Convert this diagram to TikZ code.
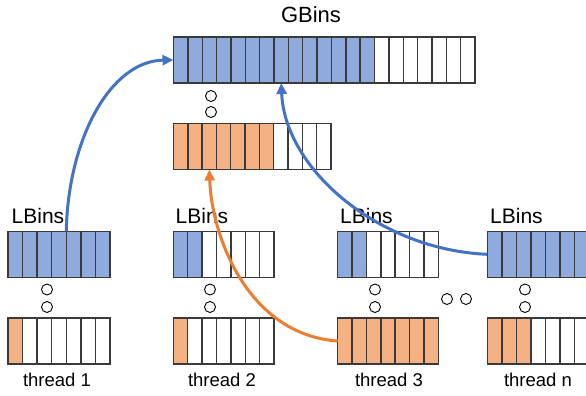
\documentclass[tikz,border=0pt]{standalone}
\usepackage{fontspec}
\setmainfont{Liberation Sans}
\usetikzlibrary{arrows.meta}
\definecolor{binblue}{HTML}{8FAADC}
\definecolor{binorange}{HTML}{F4B183}
\definecolor{arrblue}{HTML}{4472C4}
\definecolor{arrorange}{HTML}{ED7D31}
\definecolor{cellline}{HTML}{3A3A3A}
\tikzset{
  cell/.style={draw=cellline, line width=1.4pt, minimum height=46pt, inner sep=0pt, outer sep=0pt},
  dot/.style={circle, draw=black, line width=0.9pt, minimum size=11pt, inner sep=0pt},
  lbl/.style={font=\fontsize{21}{21}\selectfont, inner sep=0pt, anchor=base west},
  tlbl/.style={font=\fontsize{18.5}{18.5}\selectfont, inner sep=0pt, anchor=base},
  conn/.style={line width=3pt, -{Triangle[length=11pt,width=10pt]}},
}
% name, x-left, y-center, n, nfilled, colour, cell width
\newcommand\cellrow[7]{%
  \foreach \i in {1,...,#4}{%
    \ifnum\i>#5\relax\def\cf{white}\else\def\cf{#6}\fi
    \node[cell, minimum width=#7pt, fill=\cf] (#1-\i) at ({#2+(\i-0.5)*#7}, #3) {};
  }}
\begin{document}
\begin{tikzpicture}[x=1pt,y=-1pt]
\clip (0,0) rectangle (586,396);
\fill[white] (0,0) rectangle (586,396);
% global bins
\node[font=\fontsize{22}{22}\selectfont, inner sep=0pt, anchor=base] (gl) at (311,22.5) {GBins};
\cellrow{g}{173.5}{60}{21}{14}{binblue}{14.36}
\cellrow{o}{173.5}{146.5}{11}{7}{binorange}{14.32}
\node[dot] (gd1) at (211,96) {};
\node[dot] (gd2) at (211,112) {};
% thread 1
\node[lbl] (l1) at (11.5,223) {LBins};
\cellrow{ta}{8}{254.3}{7}{7}{binblue}{14.57}
\cellrow{tb}{8}{341}{7}{1}{binorange}{14.57}
\node[dot] (d1a) at (47,289.5) {};
\node[dot] (d1b) at (47,307) {};
\node[tlbl] (th1) at (57,386.5) {thread 1};
% thread 2
\node[lbl] (l2) at (175.5,223) {LBins};
\cellrow{ua}{173.3}{254.3}{7}{2}{binblue}{14.4}
\cellrow{ub}{173.3}{341}{7}{1}{binorange}{14.4}
\node[dot] (d2a) at (210,289.5) {};
\node[dot] (d2b) at (210,307) {};
\node[tlbl] (th2) at (222,386.5) {thread 2};
% thread 3
\node[lbl] (l3) at (340,223) {LBins};
\cellrow{va}{337.7}{254.3}{7}{2}{binblue}{14.37}
\cellrow{vb}{337.7}{341}{7}{7}{binorange}{14.37}
\node[dot] (d3a) at (375,289.5) {};
\node[dot] (d3b) at (375,307) {};
\node[tlbl] (th3) at (389,386.5) {thread 3};
% middle dots
\node[dot] (m1) at (447,299) {};
\node[dot] (m2) at (466,299) {};
% thread n
\node[lbl] (l4) at (490,223) {LBins};
\cellrow{wa}{487.3}{254.3}{7}{7}{binblue}{14.5}
\cellrow{wb}{487.3}{341}{7}{3}{binorange}{14.5}
\node[dot] (d4a) at (525,289.5) {};
\node[dot] (d4b) at (525,307) {};
\node[tlbl] (th4) at (538,386.5) {thread n};
% connectors
\draw[conn, draw=arrblue] (ta-5.north west) .. controls (68,140) and (110,61) .. (g-1.west);
\draw[conn, draw=arrblue] (wa-1.west) .. controls (380,250) and (285,170) .. (g-8.south);
\draw[conn, draw=arrorange] (vb-1.west) .. controls (250,335) and (212,240) .. (o-3.south);
\end{tikzpicture}
\end{document}
